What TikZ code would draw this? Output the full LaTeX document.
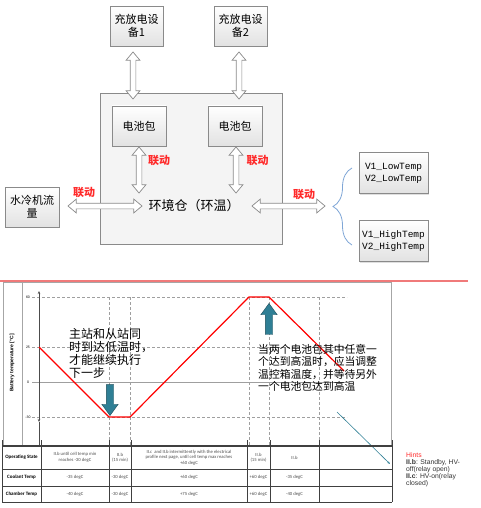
\documentclass[tikz,border=0pt]{standalone}
\usepackage{fontspec}
\setmainfont{Noto Sans CJK SC}
\newfontfamily\vfont{Liberation Mono}
\newfontfamily\tabfont{Carlito}
\newfontfamily\hintfont{Liberation Sans}
\usetikzlibrary{positioning, shapes.arrows, arrows.meta, decorations.pathreplacing, shadows}

\definecolor{boxline}{HTML}{8A8A8A}
\definecolor{boxfill}{HTML}{E2E2E2}
\definecolor{envfill}{HTML}{F4F4F4}
\definecolor{linkred}{HTML}{FF2A2A}
\definecolor{bracecol}{HTML}{7FA6D6}
\definecolor{arrowteal}{HTML}{2F7F95}
\definecolor{topred}{HTML}{F07A7A}

\begin{document}
\begin{tikzpicture}[
    x=1pt, y=-1pt,
    box/.style={rectangle, draw=boxline, top color=white, bottom color=boxfill, minimum width=53pt, minimum height=40pt, align=center, inner sep=1pt, font=\fontsize{11}{13}\selectfont, drop shadow={shadow xshift=1pt, shadow yshift=-1pt, opacity=0.25}},
    vbox/.style={box, minimum width=69pt, minimum height=41pt, font=\vfont\fontsize{9.5}{12}\selectfont},
    link/.style={text=linkred, font=\bfseries\fontsize{11}{12}\selectfont},
    dblarrow/.style={double arrow, draw=boxline, line width=0.7pt, fill=white, minimum width=13pt, double arrow head extend=4pt, double arrow tip angle=80, inner xsep=0pt, inner ysep=2.5pt},
    fatarrow/.style={single arrow, draw=arrowteal!60!black, fill=arrowteal, minimum width=16pt, single arrow head extend=4.5pt, single arrow tip angle=72, inner xsep=0pt, inner ysep=3.5pt},
    grid/.style={densely dashed, gray!75, line width=0.5pt},
    frame/.style={gray!70, line width=1pt},
    tick/.style={font=\hintfont\fontsize{3.5}{4}\selectfont, inner sep=0pt},
    note/.style={anchor=north west, align=left, inner sep=0pt},
    cell/.style={font=\tabfont\fontsize{4.7}{5.6}\selectfont, text=black!70, align=center, inner sep=0pt},
    head/.style={cell, font=\tabfont\bfseries\fontsize{5}{6}\selectfont, text=black}
]
\useasboundingbox (0,0) rectangle (480,508);

% Charge/discharge devices
\node[box] (dev1) at (136.5,26) {充放电设\\备1};
\node[box] (dev2) at (240.5,26) {充放电设\\备2};

% Environment chamber with the two packs
\node[draw=boxline, fill=envfill, minimum width=182pt, minimum height=151pt] (env) at (191,168.5) {};
\node[box, minimum width=54pt] (pack1) at (139,126) {电池包};
\node[box, minimum width=54pt] (pack2) at (235,126) {电池包};
\node[font=\fontsize{13}{15}\selectfont] (envlabel) at (194,206) {环境仓（环温）};

% Cooler and temperature cases
\node[box, minimum width=54pt] (cooler) at (32,207) {水冷机流\\量};
\node[vbox] (low) at (393.5,173) {V1\_LowTemp\\V2\_LowTemp};
\node[vbox] (high) at (393.5,241) {V1\_HighTemp\\V2\_HighTemp};

% Block arrows
\node[dblarrow, rotate=90, minimum height=47pt] (arr1) at (133,75.5) {};
\node[dblarrow, rotate=90, minimum height=47pt] (arr2) at (239,75.5) {};
\node[dblarrow, rotate=90, minimum height=46pt] (arr3) at (139,170) {};
\node[dblarrow, rotate=90, minimum height=46pt] (arr4) at (236,170) {};
\node[dblarrow, minimum height=74pt] (arr5) at (105,206) {};
\node[dblarrow, minimum height=73pt] (arr6) at (288.5,206) {};

\node[link] (lnk1) at (159,160) {联动};
\node[link] (lnk2) at (257.5,160) {联动};
\node[link] (lnk3) at (84,192) {联动};
\node[link] (lnk4) at (304,194.5) {联动};

% Brace to the two cases
\coordinate (brtop) at (352,168);
\coordinate (brbot) at (352,245);
\draw[bracecol, line width=0.8pt, decorate, decoration={brace, amplitude=19pt}] (brbot) -- (brtop);

% Temperature profile
\draw[topred, line width=1.5pt] (0,281) -- (468,281);
\draw[frame] (3,282) rectangle (391.5,446);
\draw[frame] (22,282) -- (22,446);
\foreach \yy/\tl [count=\i] in {297/60, 347/25, 417/-30} {
    \draw[grid] (32,\yy) -- (347,\yy);
    \node[tick] (ytick\i) at (28,\yy) {\tl};
}
\draw[gray!75, line width=0.5pt] (32,382) -- (347,382);
\node[tick] (ytick0) at (28,382) {0};
\foreach \xx in {109,130,249,269,319}
    \draw[grid] (\xx,297) -- (\xx,446);
\draw[black!70, line width=0.6pt, {Stealth[length=3pt,width=2.5pt]}-{Stealth[length=3pt,width=2.5pt]}] (39,291) -- (39,422);
\draw[black!70, line width=0.6pt] (39,422) -- (39,446);
\node[rotate=90, font=\hintfont\bfseries\fontsize{5}{6}\selectfont] (ytitle) at (12,363) {Battery temperature [°C]};

\draw[red, line width=1.2pt] (39,347) -- (109,417) -- (130,417) -- (249,297) -- (269,297) -- (344,371);

\node[fatarrow, rotate=-90, minimum height=31pt] (down) at (110,397.5) {};
\node[fatarrow, rotate=90, minimum height=31pt] (up) at (269,321.5) {};

\node[note, font=\fontsize{12}{13}\selectfont] (note1) at (69,328.5) {主站和从站同\\时到达低温时，\\才能继续执行\\下一步};
\node[note, font=\fontsize{10.8}{12.4}\selectfont] (note2) at (258,344) {当两个电池包其中任意一\\个达到高温时，应当调整\\温控箱温度，并等待另外\\一个电池包达到高温};

\coordinate (ptrstart) at (337,412);
\coordinate (ptrend) at (390,464);
\draw[arrowteal, line width=0.6pt, -{Stealth[length=3pt]}] (ptrstart) -- (ptrend);

% Test table
\draw[black!75, line width=1.4pt] (2,446) -- (392,446);
\foreach \yy in {469,486,502}
    \draw[black!75, line width=0.7pt] (2,\yy) -- (392,\yy);
\foreach \xx in {2,41,109,131,247,270,319,392}
    \draw[black!75, line width=0.7pt] (\xx,440) -- (\xx,502);

\node[head] (st0) at (21.5,457.5) {Operating State};
\node[cell] (st1) at (75,457.5) {II.b until cell temp min\\reaches -30 degC};
\node[cell] (st2) at (120,457.5) {II.b\\(15 min)};
\node[cell] (st3) at (189,457.5) {II.c\ \ and II.b intermittently with the electrical\\profile next page, until cell temp max reaches\\+60 degC};
\node[cell] (st4) at (258.5,457.5) {II.b\\(15 min)};
\node[cell] (st5) at (294.5,457.5) {II.b};

\node[head] (co0) at (21.5,477.5) {Coolant Temp};
\node[cell] (co1) at (75,477.5) {-35 degC};
\node[cell] (co2) at (120,477.5) {-30 degC};
\node[cell] (co3) at (189,477.5) {+60 degC};
\node[cell] (co4) at (258.5,477.5) {+60 degC};
\node[cell] (co5) at (294.5,477.5) {-35 degC};

\node[head] (ch0) at (21.5,494) {Chamber Temp};
\node[cell] (ch1) at (75,494) {-40 degC};
\node[cell] (ch2) at (120,494) {-30 degC};
\node[cell] (ch3) at (189,494) {+75 degC};
\node[cell] (ch4) at (258.5,494) {+60 degC};
\node[cell] (ch5) at (294.5,494) {-40 degC};

% Hints
\node[note, font=\hintfont\fontsize{6.8}{7}\selectfont, text=black!80] (hints) at (406,452.5) {\textcolor{linkred}{Hints}\\\textbf{II.b}: Standby, HV-\\off(relay open)\\\textbf{II.c}: HV-on(relay\\closed)};

\end{tikzpicture}
\end{document}
